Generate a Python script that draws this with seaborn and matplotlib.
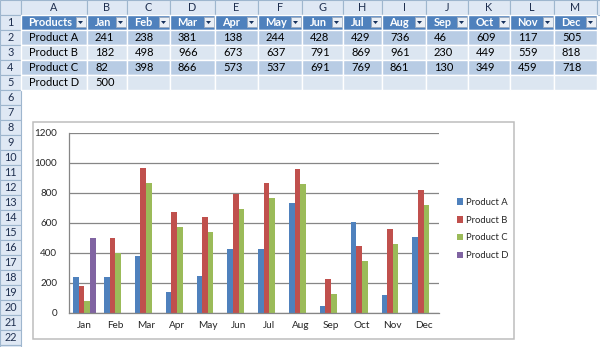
import numpy as np
import pandas as pd
import matplotlib
matplotlib.use("Agg")
import matplotlib.pyplot as plt
import seaborn as sns
from matplotlib.patches import Rectangle, Polygon

# ---------------- data ----------------
months = ["Jan", "Feb", "Mar", "Apr", "May", "Jun", "Jul", "Aug", "Sep", "Oct", "Nov", "Dec"]
products = ["Product A", "Product B", "Product C", "Product D"]
product_a = [241, 238, 381, 138, 244, 428, 429, 736, 46, 609, 117, 505]
product_b = [182, 498, 966, 673, 637, 791, 869, 961, 230, 449, 559, 818]
product_c = [82, 398, 866, 573, 537, 691, 769, 861, 130, 349, 459, 718]
product_d = [500] + [None] * 11
y_ticks = [0, 200, 400, 600, 800, 1000, 1200]
col_letters = ["A", "B", "C", "D", "E", "F", "G", "H", "I", "J", "K", "L", "M", ""]
colors = ["#4F81BD", "#C0504D", "#9BBB59", "#8064A2"]

series = [product_a, product_b, product_c, product_d]
rows = []
for p, vals in zip(products, series):
    for m, v in zip(months, vals):
        rows.append({"Month": m, "Product": p, "Value": (np.nan if v is None else v)})
df = pd.DataFrame(rows)

sns.set_style("white")
plt.rcParams["font.family"] = ["Lato", "DejaVu Sans"]

fig = plt.figure(figsize=(6, 3.47), dpi=100)
bg = fig.add_axes([0, 0, 1, 1])
bg.set_xlim(0, 600)
bg.set_ylim(347, 0)
bg.axis("off")

# ---------------- spreadsheet ----------------
col_edges = [0, 21, 87, 127, 170, 215, 258, 302, 343, 382, 426, 468, 510, 554, 597, 640]
hdr_h = 14.5
row_h = 15.0
def row_top(n):
    return hdr_h + (n - 1) * row_h

hdr_fill = "#DFE8F4"
hdr_line = "#9EB6CE"
# column header strip
for i in range(len(col_edges) - 1):
    x0, x1 = col_edges[i], col_edges[i + 1]
    bg.add_patch(Rectangle((x0, 0), x1 - x0, hdr_h, facecolor=hdr_fill, edgecolor=hdr_line, lw=0.8))
    if i >= 1 and col_letters[i - 1]:
        bg.text((x0 + x1) / 2, hdr_h / 2 + 0.5, col_letters[i - 1], ha="center", va="center",
                fontsize=7.8, color="#1F2F4F")
# row header strip
for n in range(1, 24):
    y0 = row_top(n)
    bg.add_patch(Rectangle((0, y0), col_edges[1], row_h, facecolor=hdr_fill, edgecolor=hdr_line, lw=0.8))
    if n <= 22:
        bg.text(col_edges[1] / 2, y0 + row_h / 2 + 0.5, str(n), ha="center", va="center",
                fontsize=7.8, color="#1F2F4F")

# table
table_rows = [["Products"] + months,
              ["Product A"] + [str(v) for v in product_a],
              ["Product B"] + [str(v) for v in product_b],
              ["Product C"] + [str(v) for v in product_c],
              ["Product D"] + [("" if v is None else str(v)) for v in product_d]]
row_fills = ["#4F81BD", "#B8CCE4", "#DCE6F1", "#B8CCE4", "#DCE6F1"]
for r, cells in enumerate(table_rows):
    y0 = row_top(r + 1)
    for c, txt in enumerate(cells):
        x0, x1 = col_edges[c + 1], col_edges[c + 2]
        bg.add_patch(Rectangle((x0, y0), x1 - x0, row_h, facecolor=row_fills[r],
                               edgecolor="white", lw=1.0))
        if r == 0:
            bg.text(x0 + 7.5, y0 + row_h / 2 + 0.5, txt, ha="left", va="center",
                    fontsize=7.9, color="white", fontweight="bold")
            bx0, by0 = x1 - 11.5, y0 + 2.5
            bg.add_patch(Rectangle((bx0, by0), 10, 10, facecolor="#E9EEF5",
                                   edgecolor="#9AA9BE", lw=0.6))
            bg.add_patch(Polygon([(bx0 + 2.5, by0 + 4), (bx0 + 7.5, by0 + 4), (bx0 + 5, by0 + 7)],
                                 closed=True, facecolor="#15305C", edgecolor="none"))
        else:
            bg.text(x0 + 8, y0 + row_h / 2 + 0.5, txt, ha="left", va="center",
                    fontsize=8, color="black")

# chart area
bg.add_patch(Rectangle((33, 122), 481, 217, facecolor="white", edgecolor="#BDBDBD", lw=1.1, zorder=3))

# ---------------- chart ----------------
ax = fig.add_axes([69 / 600, (347 - 313) / 347, 370 / 600, 180 / 347])
ax.set_zorder(5)
sns.barplot(data=df, x="Month", y="Value", hue="Product", order=months, hue_order=products,
            palette=colors, saturation=1, width=0.727, ax=ax, errorbar=None, linewidth=0)
ax.set_ylim(0, 1200)
ax.set_yticks(y_ticks)
ax.set_yticklabels([str(t) for t in y_ticks], fontsize=7.1)
ax.set_xlim(-0.5, len(months) - 0.5)
ax.set_xlabel("")
ax.set_ylabel("")
ax.grid(axis="y", color="#868686", lw=0.9)
ax.set_axisbelow(True)
for s in ["top", "right"]:
    ax.spines[s].set_visible(False)
for s in ["left", "bottom"]:
    ax.spines[s].set_color("#868686")
    ax.spines[s].set_linewidth(0.9)
ax.tick_params(axis="x", which="major", length=0, labelsize=7.2, pad=6)
ax.set_xticks(np.arange(-0.5, len(months), 1.0), minor=True)
ax.tick_params(axis="x", which="minor", length=3.5, color="#868686", direction="out")
ax.tick_params(axis="y", length=3.5, color="#868686", direction="out", pad=5)
ax.patch.set_alpha(0)

handles, labels = ax.get_legend_handles_labels()
ax.legend(handles, labels, loc="center left", bbox_to_anchor=(448 / 600, 1 - 229 / 347),
          bbox_transform=fig.transFigure, frameon=False, fontsize=6.8,
          handlelength=0.7, handleheight=0.7, handletextpad=0.3, labelspacing=0.95)

fig.savefig("out.png", dpi=100)
